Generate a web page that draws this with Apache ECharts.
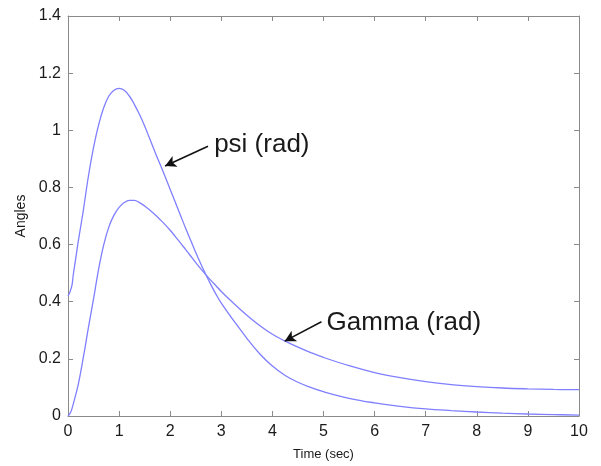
<!DOCTYPE html>
<html>
<head>
<meta charset="utf-8">
<script src="https://cdn.jsdelivr.net/npm/echarts@6/dist/echarts.min.js"></script>
<style>
html,body{margin:0;padding:0;background:#fff;}
#chart{width:601px;height:466px;}
</style>
</head>
<body>
<div id="chart"></div>
<script>
// ---- data ----
const psiTime = [0, 0.04, 0.08, 0.1, 0.15, 0.2, 0.3, 0.4, 0.5, 0.6, 0.7, 0.8, 0.9, 1.0, 1.1, 1.2, 1.3, 1.4, 1.5, 1.6, 1.7, 1.8, 1.9, 2.0, 2.1, 2.2, 2.3, 2.4, 2.5, 2.6, 2.7, 2.8, 2.9, 3.0, 3.25, 3.5, 3.75, 4.0, 4.25, 4.5, 4.75, 5, 5.5, 6, 6.5, 7, 7.5, 8, 8.5, 9, 9.5, 10];
const psiValues = [0.42, 0.435, 0.46, 0.49, 0.55, 0.61, 0.72, 0.84, 0.94, 1.02, 1.08, 1.12, 1.14, 1.147, 1.14, 1.12, 1.09, 1.055, 1.015, 0.97, 0.925, 0.882, 0.838, 0.793, 0.748, 0.703, 0.658, 0.615, 0.572, 0.532, 0.494, 0.458, 0.425, 0.395, 0.332, 0.272, 0.218, 0.175, 0.142, 0.118, 0.1, 0.085, 0.062, 0.046, 0.034, 0.025, 0.019, 0.014, 0.01, 0.007, 0.005, 0.003];
const gammaTime = [0, 0.05, 0.1, 0.2, 0.3, 0.4, 0.5, 0.6, 0.7, 0.8, 0.9, 1.0, 1.1, 1.2, 1.3, 1.4, 1.5, 1.6, 1.7, 1.8, 1.9, 2.0, 2.1, 2.2, 2.3, 2.4, 2.5, 2.6, 2.7, 2.8, 2.9, 3.0, 3.25, 3.5, 3.75, 4.0, 4.25, 4.5, 4.75, 5, 5.5, 6, 6.5, 7, 7.5, 8, 8.5, 9, 9.5, 10];
const gammaValues = [0, 0.012, 0.04, 0.11, 0.205, 0.31, 0.41, 0.515, 0.6, 0.662, 0.703, 0.73, 0.747, 0.755, 0.755, 0.747, 0.735, 0.721, 0.705, 0.688, 0.67, 0.65, 0.628, 0.606, 0.583, 0.56, 0.537, 0.515, 0.494, 0.474, 0.455, 0.436, 0.393, 0.353, 0.317, 0.286, 0.262, 0.241, 0.222, 0.205, 0.176, 0.152, 0.134, 0.12, 0.11, 0.103, 0.098, 0.095, 0.093, 0.092];
const xTicks = [0, 1, 2, 3, 4, 5, 6, 7, 8, 9, 10];
const yTicks = [0, 0.2, 0.4, 0.6, 0.8, 1, 1.2, 1.4];
const psiLabel = 'psi (rad)';
const gammaLabel = 'Gamma (rad)';
const psiArrow = [[2.74, 0.944], [1.9, 0.875]];
const gammaArrow = [[4.96, 0.33], [4.24, 0.262]];
const psiTextAt = [2.86, 0.95];
const gammaTextAt = [5.06, 0.325];
const xName = 'Time (sec)';
const yName = 'Angles';

const FONT = '"Liberation Sans", Arial, sans-serif';
const axisColor = '#8a8a8a';
const lineColor = '#7f7fff';

function pairs(ts, vs) { return ts.map((t, i) => [t, vs[i]]); }

const xMin = xTicks[0], xMax = xTicks[xTicks.length - 1];
const yMin = yTicks[0], yMax = yTicks[yTicks.length - 1];

const baseX = {
  type: 'value', min: xMin, max: xMax, interval: 1,
  axisLine: { show: true, onZero: false, lineStyle: { color: axisColor, width: 1 } },
  axisTick: { show: true, inside: true, length: 5, lineStyle: { color: axisColor } },
  splitLine: { show: false }
};
const baseY = {
  type: 'value', min: yMin, max: yMax, interval: 0.2,
  axisLine: { show: true, onZero: false, lineStyle: { color: axisColor, width: 1 } },
  axisTick: { show: true, inside: true, length: 5, lineStyle: { color: axisColor } },
  splitLine: { show: false }
};

function arrowLine(pts) {
  return {
    silent: true, symbol: ['none', 'arrow'], symbolSize: [9, 11],
    lineStyle: { color: '#111', width: 1.5, type: 'solid' },
    label: { show: false },
    data: [[{ coord: pts[0] }, { coord: pts[1] }]]
  };
}
function textPoint(at, text) {
  return {
    silent: true, symbol: 'circle', symbolSize: 0,
    label: { show: true, position: 'right', distance: 0, formatter: text, color: '#1a1a1a', fontSize: 26, fontFamily: FONT },
    data: [{ coord: at }]
  };
}

const chart = echarts.init(document.getElementById('chart'), null, { renderer: 'canvas' });
chart.setOption({
  animation: false,
  backgroundColor: '#fff',
  grid: { left: 68, right: 22, top: 16, bottom: 48, containLabel: false },
  xAxis: [
    Object.assign({}, baseX, {
      position: 'bottom', name: xName, nameLocation: 'middle', nameGap: 32,
      nameTextStyle: { fontSize: 13, fontFamily: FONT, color: '#1a1a1a' },
      axisLabel: { show: true, margin: 8, fontSize: 16, fontFamily: FONT, color: '#1a1a1a' }
    }),
    Object.assign({}, baseX, { position: 'top', axisLabel: { show: false } })
  ],
  yAxis: [
    Object.assign({}, baseY, {
      position: 'left', name: yName, nameLocation: 'middle', nameGap: 40,
      nameTextStyle: { fontSize: 14, fontFamily: FONT, color: '#1a1a1a' },
      axisLabel: { show: true, margin: 7, fontSize: 16, fontFamily: FONT, color: '#1a1a1a' }
    }),
    Object.assign({}, baseY, { position: 'right', axisLabel: { show: false } })
  ],
  series: [
    {
      name: 'psi', type: 'line', xAxisIndex: 0, yAxisIndex: 0,
      data: pairs(psiTime, psiValues), showSymbol: false, smooth: 0.4,
      lineStyle: { color: lineColor, width: 1.3 },
      markLine: arrowLine(psiArrow),
      markPoint: textPoint(psiTextAt, psiLabel)
    },
    {
      name: 'gamma', type: 'line', xAxisIndex: 0, yAxisIndex: 0,
      data: pairs(gammaTime, gammaValues), showSymbol: false, smooth: 0.4,
      lineStyle: { color: lineColor, width: 1.3 },
      markLine: arrowLine(gammaArrow),
      markPoint: textPoint(gammaTextAt, gammaLabel)
    }
  ]
});
</script>
</body>
</html>
